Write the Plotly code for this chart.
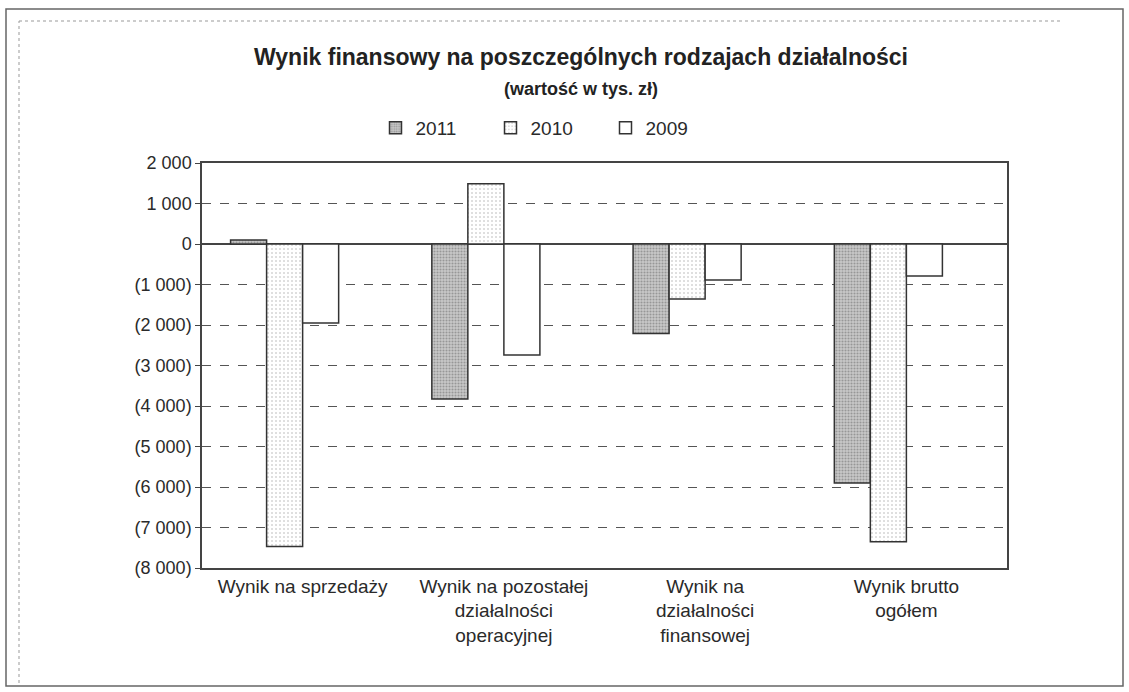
import plotly.graph_objects as go

categories = [
    "Wynik na sprzedaży",
    "Wynik na pozostałej<br>działalności<br>operacyjnej",
    "Wynik na<br>działalności<br>finansowej",
    "Wynik brutto<br>ogółem",
]
years = ["2011", "2010", "2009"]
values_2011 = [100, -3830, -2210, -5900]
values_2010 = [-7470, 1490, -1360, -7350]
values_2009 = [-1950, -2740, -890, -790]
empty_series = [None, None, None, None]

tick_vals = [2000, 1000, 0, -1000, -2000, -3000, -4000, -5000, -6000, -7000, -8000]
tick_text = ["2 000", "1 000", "0", "(1 000)", "(2 000)", "(3 000)", "(4 000)",
             "(5 000)", "(6 000)", "(7 000)", "(8 000)"]

FONT = "Arial, Liberation Sans, sans-serif"
W, H = 1129, 692
L, R, T, B = 202, 1007, 163, 568

def px_x(p):
    return (p - L) / (R - L)

def px_y(p):
    return (B - p) / (B - T)

outline = dict(color="#333333", width=1.5)

fig = go.Figure()
fig.add_trace(go.Bar(
    x=categories, y=values_2011, name=years[0],
    marker=dict(color="#bdbdbd", line=outline,
                pattern=dict(shape=".", fgcolor="#666666", bgcolor="#c9c9c9",
                             size=3, solidity=0.4)),
))
fig.add_trace(go.Bar(
    x=categories, y=values_2010, name=years[1],
    marker=dict(color="#ffffff", line=outline,
                pattern=dict(shape=".", fgcolor="#aaaaaa", bgcolor="#ffffff",
                             size=4, solidity=0.2)),
))
fig.add_trace(go.Bar(
    x=categories, y=values_2009, name=years[2],
    marker=dict(color="#ffffff", line=outline),
))
fig.add_trace(go.Bar(
    x=categories, y=empty_series, name="", showlegend=False,
    marker=dict(color="rgba(0,0,0,0)"), hoverinfo="skip",
))

shapes = [
    dict(type="rect", xref="paper", yref="paper",
         x0=px_x(6), x1=px_x(1123), y0=px_y(686), y1=px_y(9),
         line=dict(color="#666666", width=1.5)),
    dict(type="line", xref="paper", yref="paper",
         x0=px_x(19), x1=px_x(19), y0=px_y(683), y1=px_y(21),
         line=dict(color="#999999", width=1, dash="dot")),
    dict(type="line", xref="paper", yref="paper",
         x0=px_x(19), x1=px_x(1060), y0=px_y(21), y1=px_y(21),
         line=dict(color="#999999", width=1, dash="dot")),
]

fig.update_layout(
    width=W, height=H,
    margin=dict(l=L, r=W - R, t=T, b=H - B),
    paper_bgcolor="white", plot_bgcolor="white",
    barmode="group", bargap=0.284, bargroupgap=0,
    font=dict(family=FONT, color="#2a2a2a", size=18),
    title=dict(
        text="<b>Wynik finansowy na poszczególnych rodzajach działalności</b>"
             "<br><span style='font-size:18px'><b>(wartość w tys. zł)</b></span>",
        x=581 / W, xanchor="center", y=1 - 65 / H, yanchor="middle",
        font=dict(family=FONT, size=23, color="#222222"),
    ),
    legend=dict(
        orientation="h", x=px_x(548), xanchor="center", y=px_y(128), yanchor="middle",
        font=dict(family=FONT, size=19, color="#2a2a2a"),
        traceorder="normal", itemwidth=30, bgcolor="rgba(0,0,0,0)",
        entrywidth=70,
    ),
    showlegend=True,
    shapes=shapes,
)

fig.update_xaxes(
    showline=True, linecolor="#444444", linewidth=1.5, mirror=True,
    showgrid=False, ticks="", tickfont=dict(family=FONT, size=19, color="#2a2a2a"),
)
fig.update_yaxes(
    range=[-8000, 2000], tickvals=tick_vals, ticktext=tick_text,
    showline=True, linecolor="#444444", linewidth=1.5, mirror=True,
    ticks="outside", ticklen=5, tickcolor="#444444",
    showgrid=True, gridcolor="#555555", gridwidth=1, griddash="dash",
    zeroline=True, zerolinecolor="#444444", zerolinewidth=1.5,
    tickfont=dict(family=FONT, size=18, color="#2a2a2a"),
)

fig.write_html("out.html", config={"displayModeBar": False},
               post_script="document.body.style.margin='0px';")
